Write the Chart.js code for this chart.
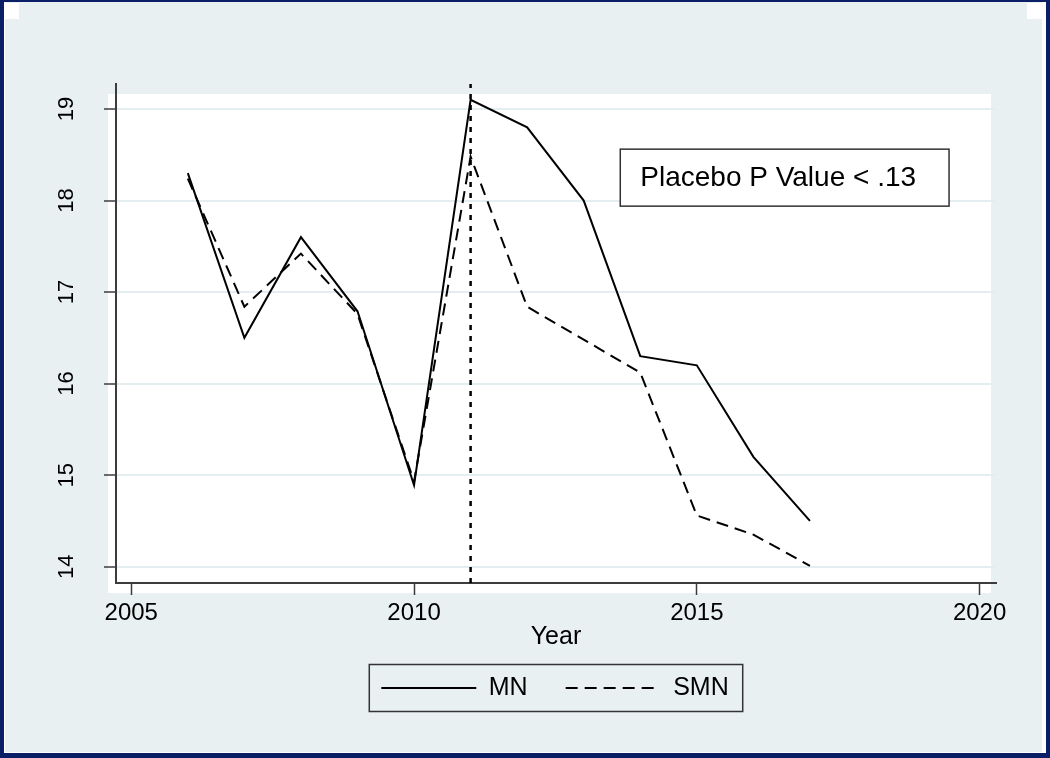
<!DOCTYPE html>
<html>
<head>
<meta charset="utf-8">
<script src="https://cdn.jsdelivr.net/npm/chart.js@4/dist/chart.umd.min.js"></script>
<style>
  html, body { margin: 0; padding: 0; }
  body { width: 1050px; height: 758px; background: #0b1f66; position: relative; overflow: hidden; }
  #frame { position: absolute; left: 4px; top: 2px; width: 1042px; height: 751px; background: #fff; }
  #inner { position: absolute; left: 5px; top: 2px; width: 1037px; height: 750px; background: #e8f0f2; }
  .corner { position: absolute; top: 3px; width: 14px; height: 16px; background: #fff; }
  #wrap { position: absolute; left: 0; top: 0; width: 1050px; height: 758px; }
</style>
</head>
<body>
<div id="frame"></div>
<div id="inner"></div>
<div class="corner" style="left:5px"></div>
<div class="corner" style="left:1027px;width:15px"></div>
<div id="wrap"><canvas id="chart" width="1050" height="758"></canvas></div>

<script>
// Data
const years = [2006, 2007, 2008, 2009, 2010, 2011, 2012, 2013, 2014, 2015, 2016, 2017];
const mn    = [18.30, 16.50, 17.60, 16.79, 14.89, 19.10, 18.80, 18.00, 16.30, 16.20, 15.20, 14.50];
const smn   = [18.24, 16.84, 17.42, 16.76, 14.93, 18.48, 16.84, 16.48, 16.12, 14.56, 14.35, 14.01];

const seriesLabels = ['MN', 'SMN'];
const xTicksStep = 5;
const yTicksStep = 1;

// Axis ranges (Stata pads a little past the ticks)
const X_MIN = 2004.73, X_MAX = 2020.29;
const Y_MIN = 13.822,  Y_MAX = 19.273;

// Treatment year marker + annotation
const TREAT_YEAR = 2011;
const ANNOT_TEXT = 'Placebo P Value < .13';
const ANNOT_X = 2014.0, ANNOT_Y = 18.25;

const FONT = '"Liberation Sans", Arial, Helvetica, sans-serif';
const AXIS_COLOR = '#3c3c3c';
const GRID_COLOR = '#e4edf0';
const LEGEND_CX = 555, LEGEND_CY = 688;
const YLABEL_X = 67;

const toXY = (ys) => years.map((x, i) => ({ x, y: ys[i] }));

// в”Ђв”Ђ Frame / y labels / legend box / annotation в”Ђв”Ђв”Ђв”Ђв”Ђв”Ђв”Ђв”Ђ
const stataPlugin = {
  id: 'stata',
  afterLayout(chart) {
    const lg = chart.legend;
    if (!lg) return;
    const pad = lg.options.labels.padding;
    const fs = lg.options.labels.font.size;
    const dx = LEGEND_CX - (lg.left + lg.right) / 2;
    const dy = LEGEND_CY - (lg.top + pad + fs / 2);
    lg.left += dx; lg.right += dx;
    lg.top += dy; lg.bottom += dy;
  },
  beforeDraw(chart) {
    const { ctx, chartArea: a } = chart;
    ctx.save();
    ctx.fillStyle = '#ffffff';
    ctx.fillRect(a.left - 8, a.top + 10, a.right - a.left + 3, a.bottom - a.top);
    ctx.restore();
  },
  afterDraw(chart) {
    const { ctx } = chart;
    const lg = chart.legend;
    const xs = chart.scales.x, ys = chart.scales.y;

    // rotated y tick labels, reading upward like Stata
    ctx.save();
    ctx.font = `22px ${FONT}`;
    ctx.fillStyle = '#000';
    ctx.textAlign = 'center';
    ctx.textBaseline = 'middle';
    ys.ticks.forEach(t => {
      const py = ys.getPixelForValue(t.value);
      ctx.save();
      ctx.translate(YLABEL_X, py);
      ctx.rotate(-Math.PI / 2);
      ctx.fillText(String(t.value), 0, 0);
      ctx.restore();
    });
    ctx.restore();

    // legend frame
    if (lg && lg.legendHitBoxes.length) {
      const hb = lg.legendHitBoxes;
      const l = Math.min(...hb.map(h => h.left)) - 12;
      const r = Math.max(...hb.map(h => h.left + h.width)) + 14;
      ctx.save();
      ctx.strokeStyle = '#333';
      ctx.lineWidth = 1.5;
      ctx.strokeRect(l, LEGEND_CY - 23.5, r - l, 47);
      ctx.restore();
    }

    // annotation
    const tx = xs.getPixelForValue(ANNOT_X);
    const ty = ys.getPixelForValue(ANNOT_Y);
    ctx.save();
    ctx.font = `28px ${FONT}`;
    const w = ctx.measureText(ANNOT_TEXT).width;
    ctx.fillStyle = '#fff';
    ctx.fillRect(tx - 20, ty - 28.5, w + 53, 57);
    ctx.strokeStyle = '#333';
    ctx.lineWidth = 1.5;
    ctx.strokeRect(tx - 20, ty - 28.5, w + 53, 57);
    ctx.fillStyle = '#000';
    ctx.textAlign = 'left';
    ctx.textBaseline = 'middle';
    ctx.fillText(ANNOT_TEXT, tx, ty + 1);
    ctx.restore();
  }
};

new Chart(document.getElementById('chart'), {
  type: 'line',
  data: {
    datasets: [
      {
        label: seriesLabels[0],
        data: toXY(mn),
        borderColor: '#000',
        backgroundColor: '#000',
        borderWidth: 2,
        pointRadius: 0,
        tension: 0,
      },
      {
        label: seriesLabels[1],
        data: toXY(smn),
        borderColor: '#000',
        backgroundColor: '#000',
        borderWidth: 2,
        borderDash: [12, 7],
        pointRadius: 0,
        tension: 0,
      },
      {
        label: 'treat',
        data: [{ x: TREAT_YEAR, y: Y_MIN }, { x: TREAT_YEAR, y: Y_MAX }],
        borderColor: '#000',
        borderWidth: 2.5,
        borderDash: [5, 6],
        pointRadius: 0,
      },
    ],
  },
  options: {
    responsive: false,
    animation: false,
    layout: { padding: { top: 84, left: 60, right: 54, bottom: 32 } },
    font: { family: FONT },
    plugins: {
      title: { display: false },
      tooltip: { enabled: false },
      legend: {
        position: 'bottom',
        labels: {
          filter: item => item.datasetIndex < 2,
          usePointStyle: true,
          pointStyle: 'line',
          pointStyleWidth: 95,
          color: '#000',
          padding: 38,
          font: { size: 25, family: FONT },
          generateLabels(chart) {
            const items = Chart.defaults.plugins.legend.labels.generateLabels(chart);
            items.forEach(it => {
              const ds = chart.data.datasets[it.datasetIndex];
              it.lineDash = ds.borderDash || [];
              it.lineWidth = 2;
              it.strokeStyle = '#000';
            });
            return items;
          },
        },
      },
    },
    scales: {
      x: {
        type: 'linear',
        min: X_MIN,
        max: X_MAX,
        afterFit(s) { s.height = 70; },
        border: { color: AXIS_COLOR, width: 2 },
        grid: { drawOnChartArea: false, tickLength: 12, tickColor: AXIS_COLOR, tickWidth: 1.5 },
        ticks: {
          stepSize: xTicksStep,
          includeBounds: false,
          maxRotation: 0,
          padding: 4,
          color: '#000',
          font: { size: 24, family: FONT },
          callback: v => String(v),
        },
        title: {
          display: true,
          text: 'Year',
          color: '#000',
          font: { size: 25, family: FONT },
          padding: { top: 0, bottom: 1 },
        },
      },
      y: {
        type: 'linear',
        min: Y_MIN,
        max: Y_MAX,
        afterFit(s) { s.width = 56; },
        border: { color: AXIS_COLOR, width: 2 },
        grid: { color: GRID_COLOR, lineWidth: 2, tickLength: 12, tickColor: AXIS_COLOR, tickWidth: 1.5 },
        ticks: {
          stepSize: yTicksStep,
          includeBounds: false,
          display: false,
        },
      },
    },
  },
  plugins: [stataPlugin],
});
</script>
</body>
</html>
